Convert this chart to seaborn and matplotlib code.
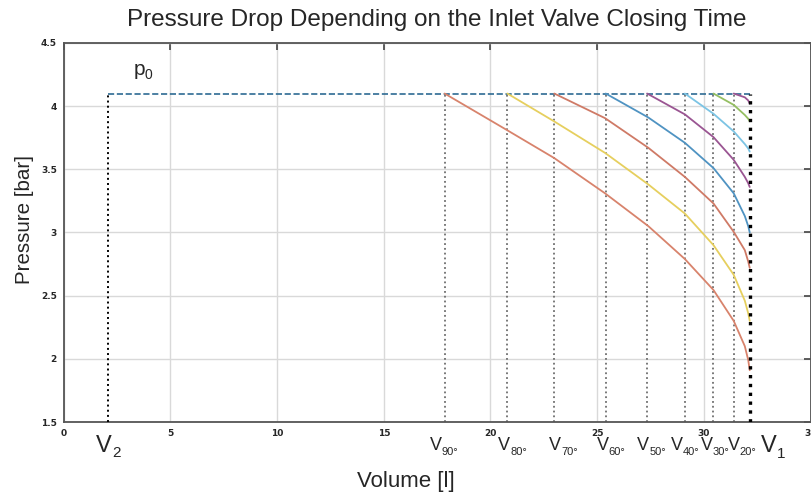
import matplotlib
matplotlib.use("Agg")
import matplotlib.pyplot as plt
import matplotlib.transforms as mtransforms
import seaborn as sns
import pandas as pd

# valve closing angles and the volume at which the valve closes [l]
angles = [90, 80, 70, 60, 50, 40, 30, 20]
v_close = [17.85, 20.79, 22.99, 25.40, 27.34, 29.11, 30.45, 31.40]
v1 = 32.15
v2 = 2.08
p0 = 4.1

# expansion curves (volume [l], pressure [bar])
vol_90 = [17.85, 20.78, 22.98, 25.37, 27.40, 29.11, 30.45, 31.40, 31.92, 32.08, 32.15]
pres_90 = [4.10, 3.81, 3.59, 3.31, 3.05, 2.79, 2.545, 2.30, 2.10, 1.99, 1.91]
vol_80 = [20.79, 22.98, 25.37, 27.40, 29.11, 30.45, 31.40, 31.92, 32.08, 32.15]
pres_80 = [4.10, 3.88, 3.63, 3.38, 3.15, 2.90, 2.665, 2.46, 2.36, 2.30]
vol_70 = [22.99, 25.37, 27.40, 29.11, 30.45, 31.40, 31.92, 32.08, 32.15]
pres_70 = [4.10, 3.905, 3.67, 3.44, 3.23, 3.005, 2.86, 2.77, 2.72]
vol_60 = [25.40, 27.40, 29.11, 30.45, 31.40, 31.92, 32.08, 32.15]
pres_60 = [4.10, 3.91, 3.71, 3.51, 3.31, 3.13, 3.05, 3.00]
vol_50 = [27.34, 29.11, 30.45, 31.40, 31.92, 32.08, 32.15]
pres_50 = [4.10, 3.935, 3.755, 3.575, 3.44, 3.39, 3.36]
vol_40 = [29.11, 30.45, 31.40, 31.92, 32.08, 32.15]
pres_40 = [4.10, 3.94, 3.80, 3.70, 3.665, 3.64]
vol_30 = [30.45, 31.40, 31.92, 32.08, 32.15]
pres_30 = [4.10, 4.01, 3.93, 3.90, 3.88]
vol_20 = [31.40, 31.92, 32.08, 32.15]
pres_20 = [4.10, 4.07, 4.045, 4.02]

curves = {90: (vol_90, pres_90), 80: (vol_80, pres_80), 70: (vol_70, pres_70),
          60: (vol_60, pres_60), 50: (vol_50, pres_50), 40: (vol_40, pres_40),
          30: (vol_30, pres_30), 20: (vol_20, pres_20)}

rows = []
for a, (vv, pp) in curves.items():
    for v, p in zip(vv, pp):
        rows.append({"angle": a, "V": v, "p": p})
df = pd.DataFrame(rows)

colors = {90: "#d8836c", 80: "#e6cf5e", 70: "#cf7a66", 60: "#4f93c2",
          50: "#9a5592", 40: "#7cc4e4", 30: "#95bf62", 20: "#9a5592"}

sns.set_style("white")
plt.rcParams["font.family"] = ["Liberation Sans", "DejaVu Sans"]

fig = plt.figure(figsize=(8.12, 4.97), dpi=100)
ax = fig.add_axes([0.0785, 0.1509, 0.9197, 0.7626])

ax.grid(True, color="#d9d9d9", linewidth=1.0)
ax.set_axisbelow(True)

# inlet pressure line and the characteristic volumes
ax.plot([v2, v1], [p0, p0], linestyle="--", color="#2e6b93", linewidth=1.2, zorder=3)
ax.plot([v2, v2], [1.5, p0], linestyle=":", color="black", linewidth=1.4, zorder=3)
for v in v_close:
    ax.plot([v, v], [1.5, p0], linestyle=":", color="#6e6e6e", linewidth=1.3, zorder=2)

sns.lineplot(data=df, x="V", y="p", hue="angle", palette=colors, sort=False,
             estimator=None, legend=False, linewidth=1.3, ax=ax, zorder=4)

ax.plot([v1, v1], [1.5, p0], linestyle=":", color="black", linewidth=2.4, zorder=5)

ax.set_xlim(0, 35)
ax.set_ylim(1.5, 4.5)
ax.set_xticks([0, 5, 10, 15, 20, 25, 30, 35])
ax.set_yticks([1.5, 2, 2.5, 3, 3.5, 4, 4.5])
ax.set_xticklabels(["0", "5", "10", "15", "20", "25", "30", "35"])
ax.set_yticklabels(["1.5", "2", "2.5", "3", "3.5", "4", "4.5"])
ax.tick_params(direction="in", length=5, width=1.2, top=True, right=True,
               labelsize=6.5, pad=5, color="#444444")
for lab in ax.get_xticklabels() + ax.get_yticklabels():
    lab.set_fontweight("bold")
    lab.set_family("DejaVu Sans")
ax.set_xlabel("")
ax.set_ylabel("")
for s in ax.spines.values():
    s.set_color("#555555")
    s.set_linewidth(1.3)

# volume labels under the axis: a "V" and a small subscript next to it
trans = mtransforms.blended_transform_factory(ax.transData, ax.transAxes)
label_dx = {90: -3, 80: 3, 70: 7, 60: 3, 50: 2, 40: -2, 30: -1, 20: 6}


def vol_label(x, dx, sub, vsize, ssize, sub_dy):
    ax.annotate("V", xy=(x, -0.063), xycoords=trans, xytext=(dx, 0),
                textcoords="offset pixels", ha="right", va="center", fontsize=vsize)
    ax.annotate(sub, xy=(x, -0.063), xycoords=trans, xytext=(dx, -sub_dy),
                textcoords="offset pixels", ha="left", va="center", fontsize=ssize)


for a, v in zip(angles, v_close):
    vol_label(v, label_dx[a], "%d°" % a, 13, 8, 6)
vol_label(v2, 4, "2", 17, 11, 7)
vol_label(v1, 27, "1", 17, 11, 8)

ax.annotate("p", xy=(3.8, 4.29), ha="right", va="center", fontsize=15)
ax.annotate("0", xy=(3.8, 4.29), xytext=(0, -5), textcoords="offset pixels",
            ha="left", va="center", fontsize=10)

fig.text(437 / 812, 1 - 20 / 497, "Pressure Drop Depending on the Inlet Valve Closing Time",
         ha="center", va="center", fontsize=17.5)
fig.text(406 / 812, 1 - 481 / 497, "Volume [l]", ha="center", va="center", fontsize=16)
fig.text(25 / 812, 1 - 220 / 497, "Pressure [bar]", ha="center", va="center",
         rotation=90, fontsize=14.8)

fig.savefig("out.png", dpi=100)
